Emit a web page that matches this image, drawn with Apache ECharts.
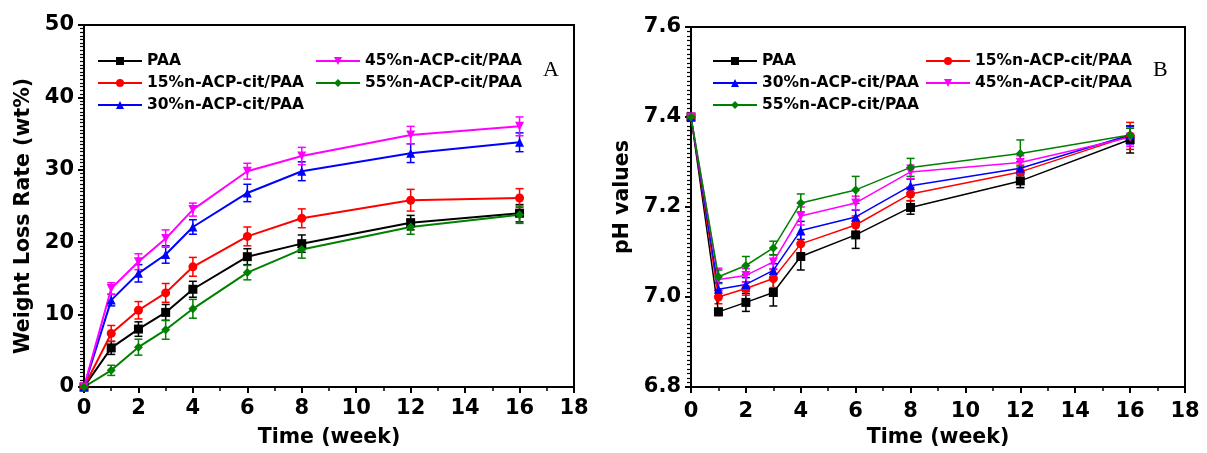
<!DOCTYPE html>
<html>
<head>
<meta charset="utf-8">
<script src="https://cdn.jsdelivr.net/npm/echarts@6/dist/echarts.min.js"></script>
<style>
  html, body { margin: 0; padding: 0; background: #fff; }
  #main { width: 1207px; height: 453px; }
</style>
</head>
<body>
<div id="main"></div>
<script>
// sampling times (week)
var weeks = [0, 1, 2, 3, 4, 6, 8, 12, 16];

var names = ['PAA', '15%n-ACP-cit/PAA', '30%n-ACP-cit/PAA', '45%n-ACP-cit/PAA', '55%n-ACP-cit/PAA'];
var colors = ['#000000', '#ff0000', '#0000ff', '#ff00ff', '#008000'];
var symbols = ['rect', 'circle', 'triangle', 'triangle', 'diamond'];
var rotates = [0, 0, 0, 180, 0];

// A: weight loss rate (wt%)
var wlPAA = [0, 5.4, 8.0, 10.3, 13.5, 18.0, 19.8, 22.7, 24.0];
var wl15 = [0, 7.4, 10.6, 13.0, 16.6, 20.8, 23.3, 25.8, 26.1];
var wl30 = [0, 12.0, 15.7, 18.3, 22.1, 26.8, 29.8, 32.3, 33.8];
var wl45 = [0, 13.6, 17.3, 20.5, 24.5, 29.8, 31.9, 34.8, 36.0];
var wl55 = [0, 2.3, 5.5, 7.9, 10.8, 15.8, 19.0, 22.1, 23.8];
var wlErrPAA = [0, 0.9, 1.0, 1.1, 1.1, 1.1, 1.2, 1.0, 1.2];
var wlErr15 = [0, 1.1, 1.2, 1.3, 1.3, 1.3, 1.3, 1.5, 1.3];
var wlErr30 = [0, 0.8, 1.2, 1.2, 1.0, 1.2, 1.3, 1.3, 1.3];
var wlErr45 = [0, 0.8, 1.1, 1.2, 0.9, 1.1, 1.2, 1.2, 1.3];
var wlErr55 = [0, 0.7, 1.1, 1.3, 1.3, 1.0, 1.2, 1.0, 1.2];

// B: pH values
var phPAA = [7.40, 6.967, 6.988, 7.010, 7.090, 7.138, 7.199, 7.258, 7.350];
var ph15 = [7.40, 7.000, 7.019, 7.041, 7.118, 7.160, 7.229, 7.278, 7.358];
var ph30 = [7.40, 7.017, 7.028, 7.059, 7.148, 7.178, 7.247, 7.286, 7.360];
var ph45 = [7.40, 7.039, 7.048, 7.078, 7.180, 7.209, 7.278, 7.299, 7.355];
var ph55 = [7.40, 7.045, 7.070, 7.109, 7.209, 7.238, 7.288, 7.319, 7.360];
var phErrPAA = [0, 0.008, 0.02, 0.03, 0.03, 0.03, 0.015, 0.015, 0.03];
var phErr15 = [0, 0.015, 0.015, 0.02, 0.02, 0.02, 0.015, 0.015, 0.03];
var phErr30 = [0, 0.015, 0.015, 0.015, 0.02, 0.015, 0.015, 0.015, 0.02];
var phErr45 = [0, 0.025, 0.015, 0.015, 0.02, 0.015, 0.015, 0.015, 0.02];
var phErr55 = [0, 0.015, 0.02, 0.015, 0.02, 0.03, 0.02, 0.03, 0.015];

var wlSets = [wlPAA, wl15, wl30, wl45, wl55];
var wlErrs = [wlErrPAA, wlErr15, wlErr30, wlErr45, wlErr55];
var phSets = [phPAA, ph15, ph30, ph45, ph55];
var phErrs = [phErrPAA, phErr15, phErr30, phErr45, phErr55];

// the figure's text is a wide bold sans
var FONT = "'DejaVu Sans', 'Liberation Sans', sans-serif";

function errorBarItem(params, api) {
  var x = api.value(0);
  var lo = api.coord([x, api.value(1)]);
  var hi = api.coord([x, api.value(2)]);
  var half = 4;
  var st = { stroke: api.visual('color'), lineWidth: 1.5 };
  return {
    type: 'group',
    children: [
      { type: 'line', shape: { x1: lo[0], y1: lo[1], x2: hi[0], y2: hi[1] }, style: st },
      { type: 'line', shape: { x1: hi[0] - half, y1: hi[1], x2: hi[0] + half, y2: hi[1] }, style: st },
      { type: 'line', shape: { x1: lo[0] - half, y1: lo[1], x2: lo[0] + half, y2: lo[1] }, style: st }
    ]
  };
}

function xAxisFor(idx, gap, margin) {
  return {
    gridIndex: idx, type: 'value', min: 0, max: 18, interval: 2,
    name: 'Time (week)', nameLocation: 'middle', nameGap: gap,
    nameTextStyle: { fontFamily: FONT, fontWeight: 'bold', fontSize: 20.5, color: '#000' },
    axisLine: { onZero: false, lineStyle: { color: '#000', width: 2 } },
    axisTick: { show: true, length: 6, lineStyle: { color: '#000', width: 2 } },
    minorTick: { show: true, splitNumber: 2, length: 4, lineStyle: { color: '#000', width: 1.5 } },
    axisLabel: { margin: margin, fontFamily: FONT, fontWeight: 'bold', fontSize: 21, color: '#000' },
    splitLine: { show: false }
  };
}

function yAxisFor(idx, min, max, step, digits) {
  return {
    gridIndex: idx, type: 'value', min: min, max: max, interval: step,
    axisLine: { onZero: false, lineStyle: { color: '#000', width: 2 } },
    axisTick: { show: true, length: 6, lineStyle: { color: '#000', width: 2 } },
    minorTick: { show: true, splitNumber: 20, length: 4, lineStyle: { color: '#000', width: 1.2 } },
    axisLabel: {
      margin: 10, fontFamily: FONT, fontWeight: 'bold', fontSize: 21, color: '#000',
      formatter: function (v) { return v.toFixed(digits); }
    },
    splitLine: { show: false }
  };
}

var series = [];
function addSet(grid, sets, errs, lw) {
  for (var i = 0; i < names.length; i++) {
    var pts = [], bars = [];
    for (var j = 0; j < weeks.length; j++) {
      pts.push([weeks[j], sets[i][j]]);
      if (errs[i][j] > 0) bars.push([weeks[j], sets[i][j] - errs[i][j], sets[i][j] + errs[i][j]]);
    }
    series.push({
      type: 'custom', name: 'err ' + names[i] + grid, xAxisIndex: grid, yAxisIndex: grid,
      renderItem: errorBarItem, data: bars, encode: { x: 0, y: [1, 2] },
      itemStyle: { color: colors[i] }, z: 2
    });
    series.push({
      type: 'line', name: names[i], xAxisIndex: grid, yAxisIndex: grid, data: pts,
      symbol: symbols[i], symbolRotate: rotates[i], symbolSize: 9,
      lineStyle: { color: colors[i], width: lw }, itemStyle: { color: colors[i] }, z: 3
    });
  }
}
addSet(0, wlSets, wlErrs, 2);
addSet(1, phSets, phErrs, 1.5);

function legendAt(left, items) {
  return {
    data: items, orient: 'vertical', left: left, top: 53, padding: 0,
    itemWidth: 44, itemHeight: 10, itemGap: 6, symbolRotate: 'inherit',
    textStyle: { fontFamily: FONT, fontWeight: 'bold', fontSize: 15.5, color: '#000' },
    selectedMode: false
  };
}

function yTitle(x, y, text) {
  return {
    type: 'text', x: x, y: y, rotation: Math.PI / 2,
    style: { text: text, fontFamily: FONT, fontWeight: 'bold', fontSize: 20.5, fill: '#000', align: 'center', verticalAlign: 'middle' }
  };
}

var chart = echarts.init(document.getElementById('main'));
chart.setOption({
  animation: false,
  backgroundColor: '#fff',
  grid: [
    { left: 84, top: 25, width: 490, height: 362, show: true, borderColor: '#000', borderWidth: 2, backgroundColor: 'transparent' },
    { left: 691, top: 27, width: 494, height: 362, show: true, borderColor: '#000', borderWidth: 2, backgroundColor: 'transparent' }
  ],
  xAxis: [xAxisFor(0, 40, 11), xAxisFor(1, 40, 14)],
  yAxis: [yAxisFor(0, 0, 50, 10, 0), yAxisFor(1, 6.8, 7.6, 0.2, 1)],
  legend: [
    legendAt(97, [names[0], names[1], names[2]]),
    legendAt(315, [names[3], names[4]]),
    legendAt(712, [names[0], names[2], names[4]]),
    legendAt(925, [names[1], names[3]])
  ],
  graphic: [
    yTitle(24, 216, 'Weight Loss Rate (wt%)'),
    yTitle(623, 197, 'pH values'),
    { type: 'text', left: 543, top: 59, style: { text: 'A', fontFamily: "'Liberation Serif', serif", fontSize: 22, fill: '#000' } },
    { type: 'text', left: 1153, top: 59, style: { text: 'B', fontFamily: "'Liberation Serif', serif", fontSize: 22, fill: '#000' } }
  ],
  series: series
});
</script>
</body>
</html>
